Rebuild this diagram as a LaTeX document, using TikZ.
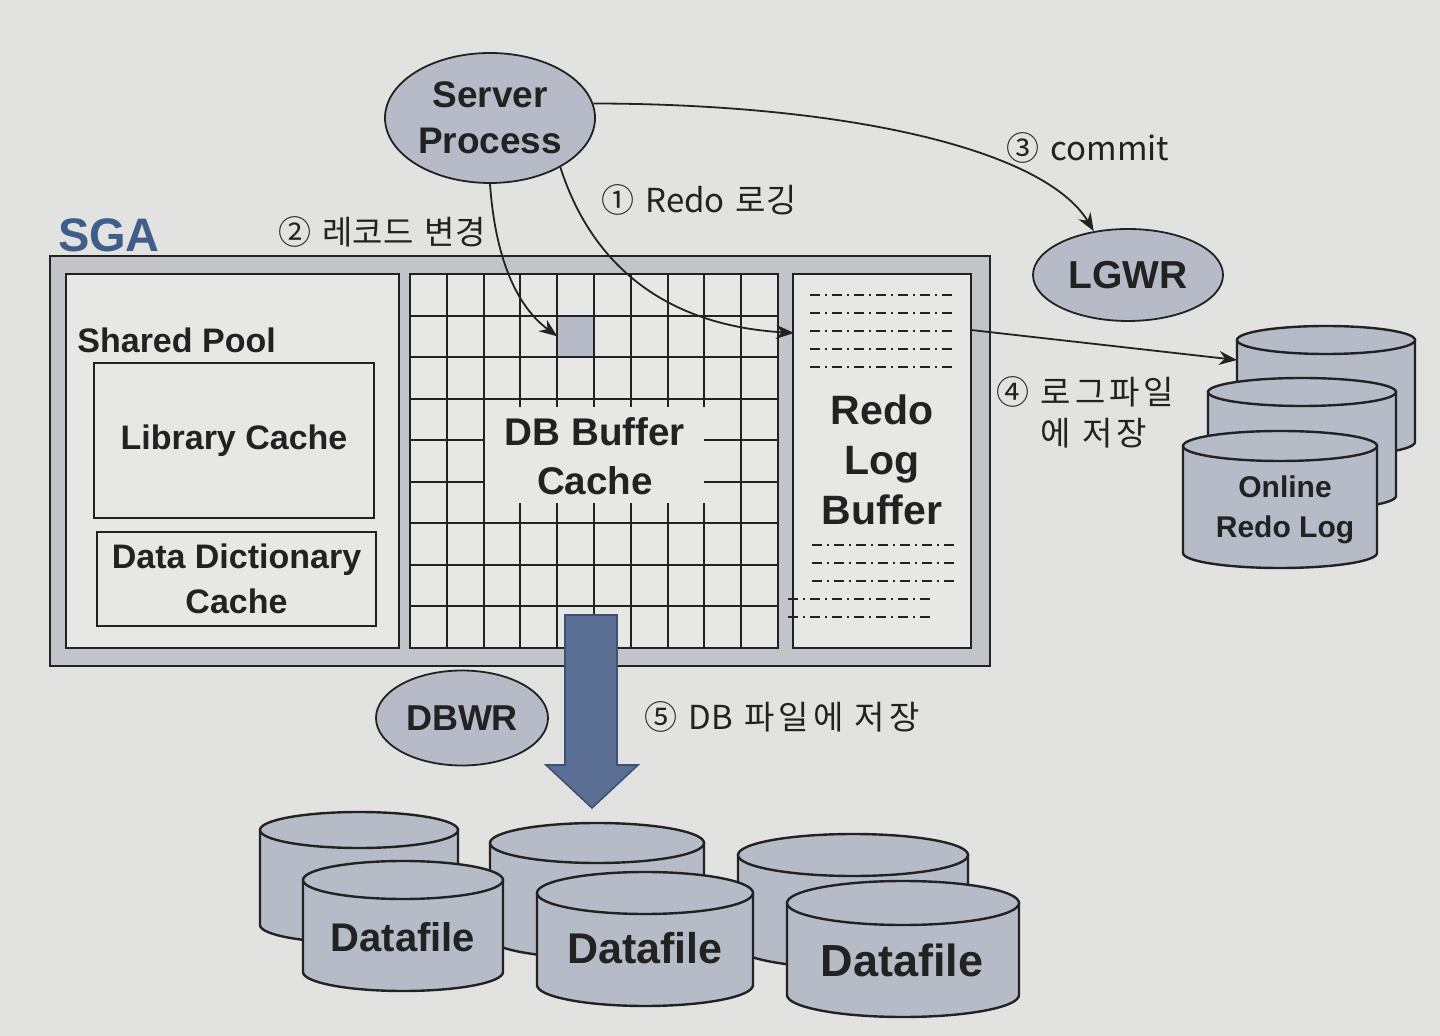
\documentclass[tikz,border=0pt]{standalone}
\usepackage{fontspec}
\setmainfont{Liberation Sans}
\newfontfamily\krfont{Noto Sans CJK KR}
\newfontfamily\krwide{Noto Sans CJK KR}[LetterSpace=12]
\usetikzlibrary{arrows.meta,shapes.geometric,calc}
\definecolor{paper}{HTML}{E2E2E0}
\definecolor{boxbg}{HTML}{E7E7E5}
\definecolor{band}{HTML}{C2C4CA}
\definecolor{procfill}{HTML}{B7BBC8}
\definecolor{cylfill}{HTML}{B6BBC8}
\definecolor{arrowblue}{HTML}{5B6F95}
\definecolor{arrowdark}{HTML}{3E5074}
\definecolor{sgablue}{HTML}{3F5F8A}
\definecolor{ink}{HTML}{222222}
\newcommand\dbcyl[5]{%
  \pgfmathsetmacro\cxl{#1-#3}\pgfmathsetmacro\cxr{#1+#3}\pgfmathsetmacro\cyb{#2+#5}%
  \pgfmathsetmacro\ckx{0.5523*#3}\pgfmathsetmacro\cky{0.5523*#4}%
  \filldraw[cylline] (\cxl,#2) -- (\cxl,\cyb) .. controls (\cxl,\cyb+\cky) and (#1-\ckx,\cyb+#4) .. (#1,\cyb+#4)
     .. controls (#1+\ckx,\cyb+#4) and (\cxr,\cyb+\cky) .. (\cxr,\cyb) -- (\cxr,#2) -- cycle;
  \filldraw[cylline] (#1,#2) ellipse (#3 and #4);
}
\begin{document}
\begin{tikzpicture}[x=0.5pt,y=-0.5pt,
  proc/.style={ellipse, draw=ink, line width=0.9pt, fill=procfill, inner sep=0pt, align=center, text=ink, font=\bfseries\fontsize{18.5}{23}\selectfont},
  lbl/.style={inner sep=0pt, text=ink, font=\krfont\fontsize{16.5}{20.5}\selectfont},
  wlbl/.style={inner sep=0pt, text=ink, font=\krwide\fontsize{16.5}{20.5}\selectfont},
  bx/.style={draw=ink, line width=1.3pt, fill=boxbg, inner sep=0pt, outer sep=0pt, anchor=north west},
  txt/.style={inner sep=0pt, text=ink, align=center, font=\bfseries\fontsize{17}{22.5}\selectfont},
  conn/.style={draw=ink, line width=0.9pt, -{Stealth[length=9pt,width=7pt]}},
  gridln/.style={draw=ink, line width=1pt},
  cylline/.style={draw=ink, line width=1.2pt, fill=cylfill},
  ddl/.style={draw=ink, line width=1.1pt, dash pattern=on 5pt off 2.5pt on 1pt off 2.5pt}]

\useasboundingbox[fill=paper] (0,0) rectangle (1440,1036);

% SGA
\node[draw=ink, line width=1.3pt, fill=band, inner sep=0pt, outer sep=0pt, anchor=north west,
      minimum width=470pt, minimum height=205pt] (sga) at (50,256) {};
\node[font=\bfseries\fontsize{23.5}{28}\selectfont, text=sgablue, inner sep=0pt] (sgalbl) at (109,235) {SGA};

% Shared pool
\node[bx, minimum width=166.5pt, minimum height=187pt] (pool) at (66,274) {};
\node[txt, anchor=west] (poollbl) at (77,340) {Shared Pool};
\node[bx, minimum width=140pt, minimum height=77.5pt] (lib) at (94,363) {};
\node[txt] (libl) at (lib.center) {Library Cache};
\node[bx, minimum width=139.5pt, minimum height=47pt] (ddc) at (97,532) {};
\node[txt] (ddcl) at (ddc.center) {Data Dictionary\\Cache};

% DB buffer cache grid
\node[bx, minimum width=184pt, minimum height=187pt] (dbc) at (410,274) {};
\foreach \i in {1,2,9} \draw[gridln] ({410+36.8*\i},274) -- ({410+36.8*\i},648);
\foreach \i in {3,...,8} {
  \draw[gridln] ({410+36.8*\i},274) -- ({410+36.8*\i},407);
  \draw[gridln] ({410+36.8*\i},503) -- ({410+36.8*\i},648);
}
\foreach \j in {1,2,3,6,7,8} \draw[gridln] (410,{274+41.556*\j}) -- (778,{274+41.556*\j});
\foreach \j in {4,5} {
  \draw[gridln] (410,{274+41.556*\j}) -- (483.6,{274+41.556*\j});
  \draw[gridln] (704.4,{274+41.556*\j}) -- (778,{274+41.556*\j});
}
\node[draw=ink, line width=1pt, fill=procfill, minimum width=18.4pt, minimum height=20.78pt,
      inner sep=0pt, outer sep=0pt] (hot) at (575.6,336.3) {};
\node[txt, font=\bfseries\fontsize{19.3}{24.5}\selectfont] (dbcl) at (595,456) {DB Buffer\\Cache};

% Redo log buffer
\node[bx, minimum width=89pt, minimum height=187pt] (rlb) at (793,274) {};
\node[txt, font=\bfseries\fontsize{20.5}{25}\selectfont] (rlbl) at (882,460) {Redo\\Log\\Buffer};
\foreach \y in {295,313,331,349,367} \draw[ddl] (810,\y) -- (954,\y);
\foreach \y in {545,563,581} \draw[ddl] (812,\y) -- (956,\y);
\foreach \y in {599,617} \draw[ddl] (788,\y) -- (932,\y);
\coordinate (rbin) at (794,333);
\coordinate (rbout) at (971,330);

% big DBWR arrow
\filldraw[fill=arrowblue, draw=arrowdark, line width=0.8pt]
  (565,615) -- (617,615) -- (617,765) -- (638,765) -- (592,808) -- (546,765) -- (565,765) -- cycle;
\node[proc, minimum width=86pt, minimum height=47.5pt, font=\bfseries\fontsize{18}{22}\selectfont] (dbwr) at (462,718) {DBWR};
\node[wlbl] (l5) at (782,717) {⑤ {\krfont DB} 파일에 저장};

% Datafiles
\dbcyl{359}{830}{99}{18}{95}
\dbcyl{597}{843}{107}{20}{95}
\dbcyl{853}{855}{115}{21}{92}
\dbcyl{403}{880}{100}{19}{92}
\dbcyl{645}{893}{108}{21}{92}
\dbcyl{903}{903}{116}{22}{92}
\node[txt, font=\bfseries\fontsize{20}{24}\selectfont] (df1) at (403,937) {Datafile};
\node[txt, font=\bfseries\fontsize{21.5}{24}\selectfont] (df2) at (645,948) {Datafile};
\node[txt, font=\bfseries\fontsize{22.5}{24}\selectfont] (df3) at (902,960) {Datafile};

% Online redo logs
\dbcyl{1326}{340}{89}{14}{102}
\dbcyl{1302}{392}{94}{14}{104}
\dbcyl{1280}{446}{97}{15}{107}
\coordinate (orl) at (1237,360);
\node[txt, font=\bfseries\fontsize{15}{20}\selectfont] (orll) at (1285,510) {Online\\Redo Log};

% processes
\node[proc, minimum width=105pt, minimum height=65pt] (sp) at (490,118) {Server\\Process};
\node[proc, minimum width=95pt, minimum height=46pt, font=\bfseries\fontsize{19.5}{23}\selectfont] (lgwr) at (1128,275) {LGWR};

% connectors
\draw[conn] (sp.south) .. controls (495,255) and (515,305) .. (hot.west);
\draw[conn] (sp.-35) .. controls (590,260) and (660,325) .. (rbin);
\draw[conn] (sp.8) .. controls (850,104) and (1045,150) .. (lgwr.128);
\draw[conn] (rbout) -- (orl);

% labels
\node[lbl] (l2) at (382,232) {②\,\,레코드\,\,변경};
\node[lbl] (l1) at (699,200) {①\,\,Redo\,\,로깅};
\node[lbl] (l3) at (1088,148) {③\,\,commit};
\node[wlbl, align=left, anchor=west] (l4) at (996,412) {④ 로그파일\\\phantom{④ }에 저장};
\end{tikzpicture}
\end{document}
